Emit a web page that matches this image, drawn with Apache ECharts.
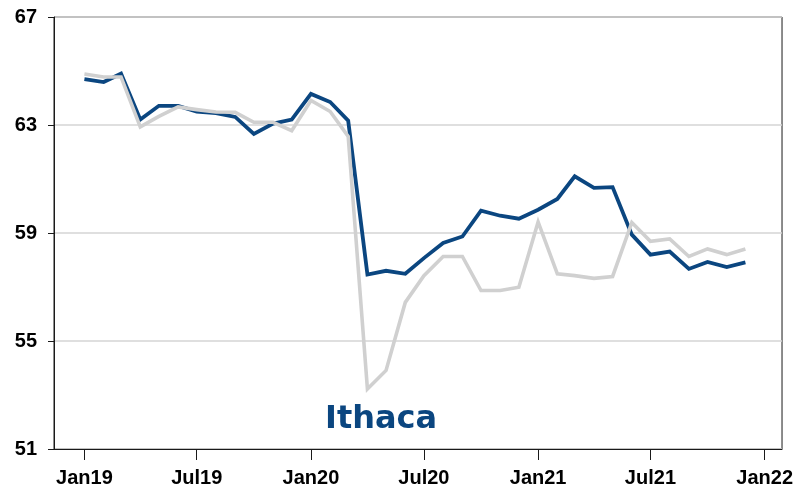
<!DOCTYPE html>
<html>
<head>
<meta charset="utf-8">
<script src="https://cdn.jsdelivr.net/npm/echarts@6/dist/echarts.min.js"></script>
<style>
html, body { margin: 0; padding: 0; background: #fff; }
#chart { width: 796px; height: 491px; }
</style>
</head>
<body>
<div id="chart"></div>
<script>
// months Jan19 .. Dec21
var months = [
  '2019-01-01','2019-02-01','2019-03-01','2019-04-01','2019-05-01','2019-06-01',
  '2019-07-01','2019-08-01','2019-09-01','2019-10-01','2019-11-01','2019-12-01',
  '2020-01-01','2020-02-01','2020-03-01','2020-04-01','2020-05-01','2020-06-01',
  '2020-07-01','2020-08-01','2020-09-01','2020-10-01','2020-11-01','2020-12-01',
  '2021-01-01','2021-02-01','2021-03-01','2021-04-01','2021-05-01','2021-06-01',
  '2021-07-01','2021-08-01','2021-09-01','2021-10-01','2021-11-01','2021-12-01'
];
// dark blue line
var ithaca = [
  64.70, 64.59, 64.90, 63.20, 63.71, 63.71, 63.50, 63.44, 63.30, 62.67, 63.05, 63.20,
  64.15, 63.85, 63.16, 57.46, 57.60, 57.49, 58.07, 58.63, 58.87, 59.83, 59.64, 59.53,
  59.86, 60.26, 61.10, 60.67, 60.70, 58.94, 58.20, 58.31, 57.67, 57.93, 57.74, 57.91
];
// light gray line
var comparison = [
  64.89, 64.78, 64.78, 62.93, 63.32, 63.67, 63.57, 63.48, 63.47, 63.10, 63.10, 62.79,
  63.91, 63.50, 62.58, 53.22, 53.91, 56.43, 57.42, 58.13, 58.13, 56.87, 56.87, 56.99,
  59.41, 57.49, 57.42, 57.32, 57.39, 59.39, 58.69, 58.78, 58.13, 58.41, 58.20, 58.41
];
var tickDates = ['2019-01-01','2019-07-01','2020-01-01','2020-07-01','2021-01-01','2021-07-01','2022-01-01'];
var tickLabels = ['Jan19','Jul19','Jan20','Jul20','Jan21','Jul21','Jan22'];

function ts(d) { return +new Date(d + 'T00:00:00Z'); }
var tickTimes = tickDates.map(ts);
function pairs(vals) {
  return vals.map(function (v, i) { return [ts(months[i]), v]; });
}

var chart = echarts.init(document.getElementById('chart'));
var option = {
  animation: false,
  grid: {
    left: 54, right: 12, top: 17, bottom: 42,
    show: true, borderColor: '#1a1a1a', borderWidth: 1
  },
  xAxis: {
    type: 'value',
    min: ts('2018-11-13'),
    max: ts('2022-01-29'),
    axisLine: { show: true, onZero: false, lineStyle: { color: '#1a1a1a', width: 1 } },
    axisTick: { show: true, length: 11, customValues: tickTimes, lineStyle: { color: '#1a1a1a' } },
    axisLabel: {
      customValues: tickTimes,
      margin: 19,
      color: '#000',
      fontFamily: 'Liberation Sans, Arial',
      fontWeight: 'bold',
      fontSize: 20,
      formatter: function (val) {
        var i = tickTimes.indexOf(val);
        return i >= 0 ? tickLabels[i] : '';
      }
    },
    splitLine: { show: false }
  },
  yAxis: {
    type: 'value',
    min: 51, max: 67, interval: 4,
    axisLine: { show: true, lineStyle: { color: '#1a1a1a', width: 1 } },
    axisTick: { show: true, length: 6, lineStyle: { color: '#1a1a1a' } },
    axisLabel: {
      margin: 17,
      color: '#000',
      fontFamily: 'Liberation Sans, Arial',
      fontWeight: 'bold',
      fontSize: 20
    },
    splitLine: { lineStyle: { color: '#d4d4d4', width: 1.5 } }
  },
  graphic: [{
    type: 'text',
    left: 325,
    top: 404,
    style: {
      text: 'Ithaca',
      fill: '#0b4680',
      font: 'bold 32px "DejaVu Sans"'
    }
  }],
  series: [
    {
      name: 'Ithaca',
      type: 'line',
      data: pairs(ithaca),
      showSymbol: false,
      lineStyle: { color: '#0b4680', width: 3.8, join: 'miter' },
      z: 2
    },
    {
      name: 'Comparison',
      type: 'line',
      data: pairs(comparison),
      showSymbol: false,
      lineStyle: { color: '#d0d0d0', width: 3.6, join: 'miter' },
      z: 3
    }
  ]
};
chart.setOption(option);
</script>
</body>
</html>
